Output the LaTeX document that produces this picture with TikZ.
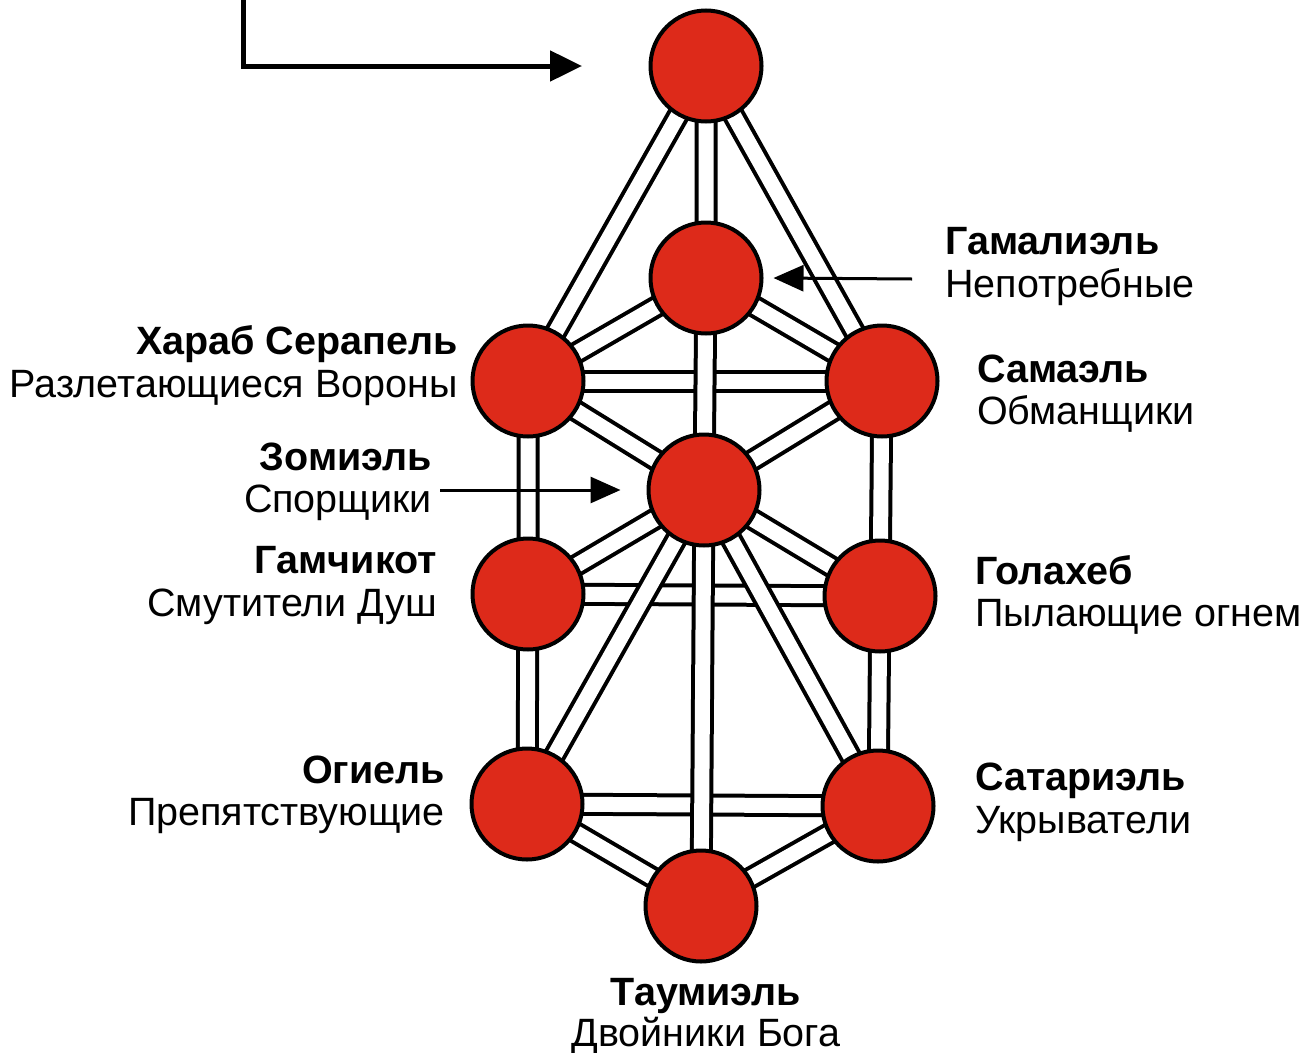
\documentclass[tikz,border=0pt]{standalone}
\usepackage{fontspec}
\setmainfont{Liberation Sans}
\usetikzlibrary{arrows.meta}
\definecolor{sefred}{HTML}{DD2A1A}
\pgfdeclarelayer{bg}
\pgfsetlayers{bg,main}
\begin{document}
\begin{tikzpicture}[x=1pt,y=-1pt,
  sef/.style={circle, draw=black, line width=4pt, fill=sefred, minimum size=111pt, inner sep=0pt},
  band/.style={draw=black, line width=4pt, double=white, double distance=15pt},
  lbl/.style={font=\fontsize{39.5}{46}\selectfont, inner sep=0pt},
  blbl/.style={font=\fontsize{39.5}{46}\selectfont\bfseries, inner sep=0pt},
  ptr/.style={line width=3pt, -{Triangle[length=30pt,width=26pt]}},
]
\useasboundingbox (0,0) rectangle (1314,1052);
% spheres
\node[sef] (k)   at (706,66)  {};
\node[sef] (gam) at (706,278) {};
\node[sef] (har) at (528,381) {};
\node[sef] (sam) at (882,381) {};
\node[sef] (zom) at (704,490) {};
\node[sef] (gch) at (528,594) {};
\node[sef] (gol) at (880,596) {};
\node[sef] (og)  at (527,804) {};
\node[sef] (sat) at (878,806) {};
\node[sef] (tau) at (701,906) {};
% paths
\begin{pgfonlayer}{bg}
\draw[band] (har.center) -- (sam.center);
\draw[band] (gch.center) -- (gol.center);
\draw[band] (og.center) -- (sat.center);
\draw[band] (har.center) -- (gch.center) -- (og.center);
\draw[band] (sam.center) -- (gol.center) -- (sat.center);
\draw[band] (k.center) -- (har.center);
\draw[band] (k.center) -- (sam.center);
\draw[band] (gam.center) -- (har.center);
\draw[band] (gam.center) -- (sam.center);
\draw[band] (zom.center) -- (har.center);
\draw[band] (zom.center) -- (sam.center);
\draw[band] (zom.center) -- (gch.center);
\draw[band] (zom.center) -- (gol.center);
\draw[band] (zom.center) -- (og.center);
\draw[band] (zom.center) -- (sat.center);
\draw[band] (og.center) -- (tau.center);
\draw[band] (sat.center) -- (tau.center);
\draw[band] (k.center) -- (gam.center) -- (zom.center) -- (tau.center);
\end{pgfonlayer}
% pointers
\coordinate (topsrc) at (243,-5);
\coordinate (topdst) at (582,66);
\draw[line width=5pt, -{Triangle[length=32pt,width=30pt]}] (topsrc) |- (topdst);
\coordinate (gamsrc) at (912,279);
\draw[ptr] (gamsrc) -- ([xshift=10pt]gam.east);
\coordinate (zomsrc) at (440,490);
\draw[ptr] (zomsrc) -- ([xshift=-26pt]zom.west);
% labels
\node[blbl, anchor=base west] (l1a) at (945,254) {Гамалиэль};
\node[lbl,  anchor=base west] (l1b) at (945,297) {Непотребные};
\node[blbl, anchor=base east] (l2a) at (458,354) {Хараб Серапель};
\node[lbl,  anchor=base east] (l2b) at (458,397) {Разлетающиеся Вороны};
\node[blbl, anchor=base west] (l3a) at (977,382) {Самаэль};
\node[lbl,  anchor=base west] (l3b) at (977,424) {Обманщики};
\node[blbl, anchor=base east] (l4a) at (432,470) {Зомиэль};
\node[lbl,  anchor=base east] (l4b) at (432,512) {Спорщики};
\node[blbl, anchor=base east] (l5a) at (437,573) {Гамчикот};
\node[lbl,  anchor=base east] (l5b) at (437,616) {Смутители Душ};
\node[blbl, anchor=base west] (l6a) at (975,584) {Голахеб};
\node[lbl,  anchor=base west] (l6b) at (975,626) {Пылающие огнем};
\node[blbl, anchor=base east] (l7a) at (445,783) {Огиель};
\node[lbl,  anchor=base east] (l7b) at (445,825) {Препятствующие};
\node[blbl, anchor=base west] (l8a) at (975,790) {Сатариэль};
\node[lbl,  anchor=base west] (l8b) at (975,833) {Укрыватели};
\node[blbl, anchor=base] (l9a) at (706,1005) {Таумиэль};
\node[lbl,  anchor=base] (l9b) at (706,1046) {Двойники Бога};
\end{tikzpicture}
\end{document}
